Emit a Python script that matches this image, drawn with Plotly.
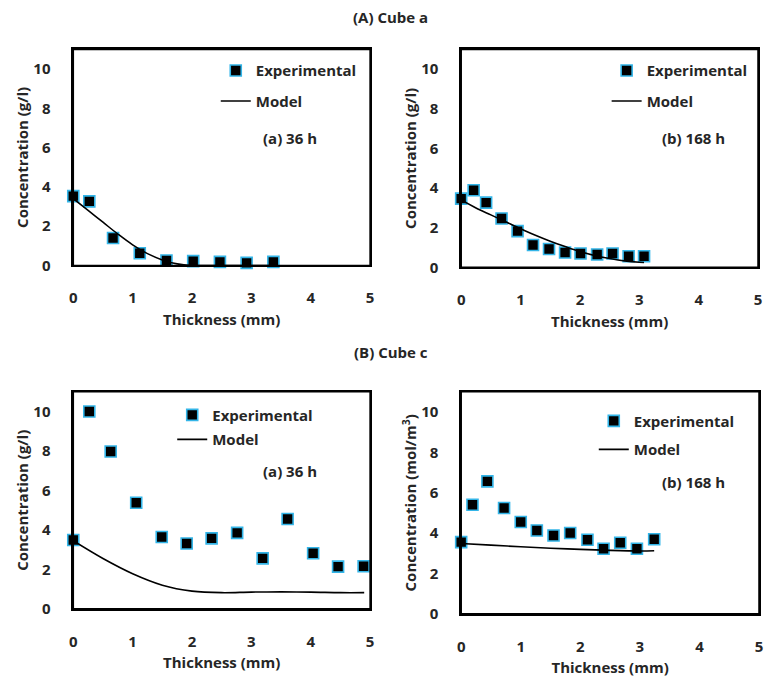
import plotly.graph_objects as go

W, H = 766, 682

# ---------------- data ----------------
# (A) Cube a, (a) 36 h
aa_exp_x = [0, 0.27, 0.67, 1.12, 1.57, 2.02, 2.47, 2.92, 3.37]
aa_exp_y = [3.53, 3.26, 1.40, 0.62, 0.25, 0.22, 0.18, 0.13, 0.18]
aa_mod_x = [0, 0.25, 0.5, 0.75, 1.0, 1.25, 1.5, 1.75, 2.0, 2.5, 3.0, 3.4]
aa_mod_y = [3.4, 2.8, 2.2, 1.6, 1.05, 0.6, 0.28, 0.08, 0.0, 0.0, 0.0, 0.0]

# (A) Cube a, (b) 168 h
ab_exp_x = [0, 0.21, 0.42, 0.68, 0.95, 1.21, 1.48, 1.75, 2.01, 2.29, 2.55, 2.82, 3.08]
ab_exp_y = [3.47, 3.89, 3.27, 2.47, 1.83, 1.13, 0.93, 0.75, 0.70, 0.65, 0.70, 0.56, 0.56]
ab_mod_x = [0, 0.25, 0.5, 0.75, 1.0, 1.25, 1.5, 1.75, 2.0, 2.25, 2.5, 2.75, 3.0, 3.08]
ab_mod_y = [3.4, 3.0, 2.65, 2.3, 1.95, 1.62, 1.32, 1.05, 0.8, 0.6, 0.45, 0.33, 0.26, 0.25]

# (B) Cube c, (a) 36 h
ba_exp_x = [0, 0.27, 0.63, 1.06, 1.49, 1.91, 2.33, 2.76, 3.19, 3.61, 4.04, 4.46, 4.89]
ba_exp_y = [3.49, 10.0, 7.97, 5.38, 3.64, 3.31, 3.57, 3.85, 2.56, 4.55, 2.82, 2.14, 2.16]
ba_mod_x = [0, 0.5, 1.0, 1.5, 2.0, 2.5, 3.0, 3.5, 4.0, 4.5, 4.9]
ba_mod_y = [3.45, 2.55, 1.78, 1.2, 0.9, 0.82, 0.85, 0.86, 0.85, 0.82, 0.82]

# (B) Cube c, (b) 168 h
bb_exp_x = [0, 0.19, 0.44, 0.72, 1.0, 1.27, 1.55, 1.83, 2.12, 2.39, 2.67, 2.95, 3.24]
bb_exp_y = [3.55, 5.40, 6.56, 5.24, 4.55, 4.13, 3.88, 4.0, 3.67, 3.22, 3.52, 3.22, 3.69]
bb_mod_x = [0, 0.5, 1.0, 1.5, 2.0, 2.5, 3.0, 3.24]
bb_mod_y = [3.48, 3.4, 3.32, 3.25, 3.19, 3.14, 3.11, 3.12]

x_ticks = [0, 1, 2, 3, 4, 5]
y_ticks = [0, 2, 4, 6, 8, 10]

panels = [
    dict(ex=aa_exp_x, ey=aa_exp_y, mx=aa_mod_x, my=aa_mod_y, label="(a) 36 h",
         ytitle="Concentration (g/l)", box=(70, 370, 50, 269), leg=(214, 55), gap=8, lab=(289, 140)),
    dict(ex=ab_exp_x, ey=ab_exp_y, mx=ab_mod_x, my=ab_mod_y, label="(b) 168 h",
         ytitle="Concentration (g/l)", box=(462, 762, 50, 271), leg=(609, 55), gap=8, lab=(697, 140)),
    dict(ex=ba_exp_x, ey=ba_exp_y, mx=ba_mod_x, my=ba_mod_y, label="(a) 36 h",
         ytitle="Concentration (g/l)", box=(70, 370, 397, 617), leg=(170, 404), gap=2, lab=(289, 477)),
    dict(ex=bb_exp_x, ey=bb_exp_y, mx=bb_mod_x, my=bb_mod_y, label="(b) 168 h",
         ytitle="Concentration (mol/m<sup>3</sup>)", box=(462, 763, 397, 622), leg=(596, 410), gap=6, lab=(697, 488)),
]

FONT = "Open Sans"
TXT = "#262626"
FS = 15

fig = go.Figure()
layout = dict(width=W, height=H, margin=dict(l=0, r=0, t=0, b=0),
              paper_bgcolor="white", plot_bgcolor="rgba(0,0,0,0)",
              font=dict(family=FONT, size=FS, color=TXT, weight="bold"),
              annotations=[], shapes=[])

for i, p in enumerate(panels):
    n = "" if i == 0 else str(i + 1)
    xa, ya = "x" + n, "y" + n
    lg = "legend" + n
    x0, x1, y0, y1 = p["box"]
    fig.add_trace(go.Scatter(x=p["ex"], y=p["ey"], mode="markers", name="Experimental",
                             xaxis=xa, yaxis=ya, legend=lg, legendgroup="e" + str(i),
                             cliponaxis=False,
                             marker=dict(symbol="square", size=11, color="black",
                                         line=dict(color="#33b5e8", width=1.6))))
    fig.add_trace(go.Scatter(x=p["mx"], y=p["my"], mode="lines", name="Model",
                             xaxis=xa, yaxis=ya, legend=lg, legendgroup="m" + str(i),
                             line_shape="spline", line=dict(color="black", width=1.6)))
    ax = dict(domain=[x0 / W, x1 / W], anchor=ya, range=[0, 5], tickvals=x_ticks,
              showgrid=False, zeroline=False, showline=True, mirror=True,
              linecolor="#000000", linewidth=1.6,
              ticks="outside", ticklen=18, tickcolor="rgba(0,0,0,0)",
              title=dict(text="Thickness (mm)", standoff=8, font=dict(size=FS)),
              tickfont=dict(size=FS))
    ay = dict(domain=[1 - y1 / H, 1 - y0 / H], anchor=xa, range=[0, 11], tickvals=y_ticks,
              showgrid=False, zeroline=False, showline=True, mirror=True,
              linecolor="#000000", linewidth=1.6,
              ticks="outside", ticklen=18, tickcolor="rgba(0,0,0,0)",
              title=dict(text=p["ytitle"], standoff=1, font=dict(size=FS)),
              tickfont=dict(size=FS))
    layout["xaxis" + n] = ax
    layout["yaxis" + n] = ay
    # plot-area frame
    layout["shapes"].append(dict(type="rect", xref=xa + " domain", yref=ya + " domain",
                                 x0=0, x1=1, y0=0, y1=1, layer="above",
                                 line=dict(color="#000000", width=1.6)))
    lx, ly = p["leg"]
    layout[lg] = dict(x=lx / W, y=1 - ly / H, xanchor="left", yanchor="top",
                      bgcolor="rgba(0,0,0,0)", font=dict(size=FS, color=TXT),
                      itemwidth=30, tracegroupgap=p["gap"], traceorder="grouped")
    layout["annotations"].append(dict(text=p["label"], x=p["lab"][0] / W, y=1 - p["lab"][1] / H,
                                      xref="paper", yref="paper", showarrow=False,
                                      xanchor="center", yanchor="middle",
                                      font=dict(size=FS, color=TXT)))

layout["annotations"].append(dict(text="(A) Cube a", x=391 / W, y=1 - 17 / H, xref="paper",
                                  yref="paper", showarrow=False, xanchor="center", yanchor="middle",
                                  font=dict(size=FS, color=TXT)))
layout["annotations"].append(dict(text="(B) Cube c", x=391 / W, y=1 - 357 / H, xref="paper",
                                  yref="paper", showarrow=False, xanchor="center", yanchor="middle",
                                  font=dict(size=FS, color=TXT)))

fig.update_layout(**layout)
fig.write_html("out.html", config={"displayModeBar": False},
               post_script="document.body.style.margin='0';")
